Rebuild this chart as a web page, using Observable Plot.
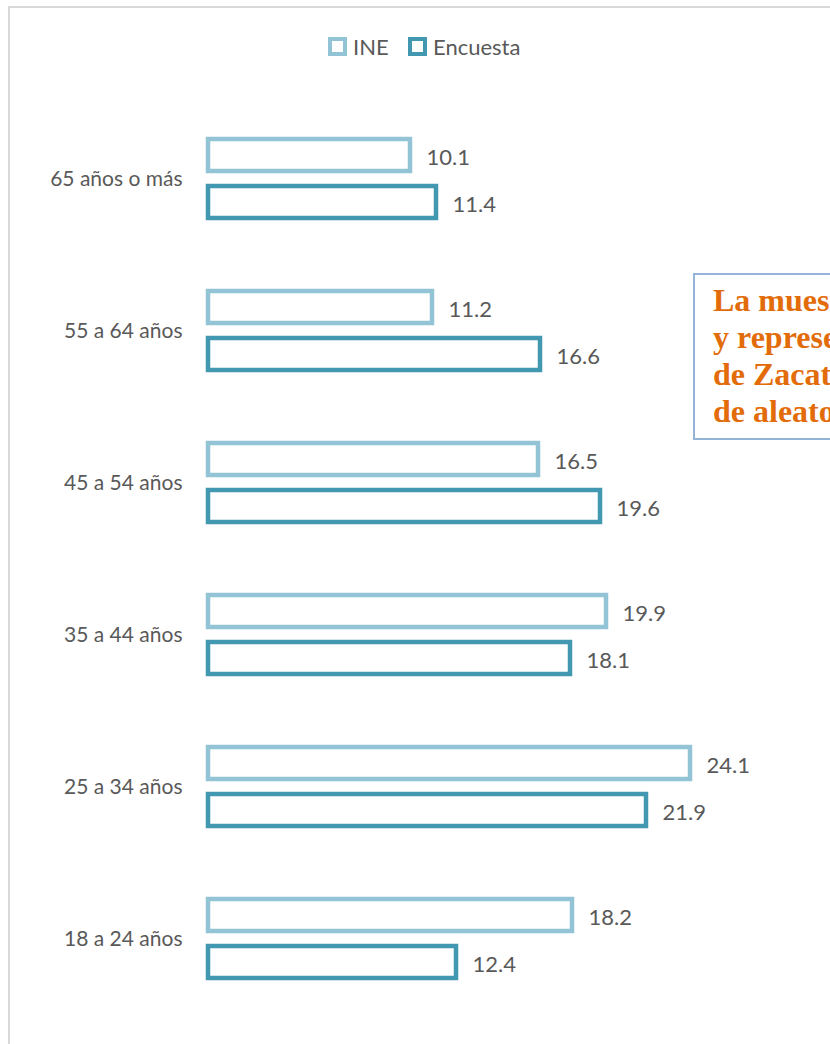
<!DOCTYPE html>
<html>
<head>
<meta charset="utf-8">
<script src="https://cdn.jsdelivr.net/npm/d3@7"></script>
<script src="https://cdn.jsdelivr.net/npm/@observablehq/plot@0.6"></script>
<style>
  html, body { margin: 0; padding: 0; background: #fff; overflow: hidden; }
  #wrap { position: relative; width: 830px; height: 1044px; overflow: hidden; font-family: Lato, "Open Sans", sans-serif; }
  #frame { position: absolute; left: 8px; top: 6px; width: 900px; height: 1100px; border-left: 2px solid #d9d9d9; border-top: 2px solid #d9d9d9; box-sizing: border-box; }
  #legend { position: relative; height: 100px; }
  .li { position: absolute; top: 33px; display: flex; align-items: center; font-size: 22px; color: #595959; }
  .sw { width: 11px; height: 11px; border: 4px solid; margin-right: 6px; background: #fff; }
  #note { position: absolute; left: 693px; top: 273px; width: 300px; height: 167px; border: 2px solid #95b3d7; box-sizing: border-box; background: #fff;
          font-family: "Liberation Serif", "Times New Roman", serif; font-weight: bold; color: #e36c0a; font-size: 32px; line-height: 37px; padding: 7px 0 0 18px; white-space: nowrap; }
  svg { display: block; }
</style>
</head>
<body>
<div id="wrap">
  <div id="frame"></div>
  <div id="legend"></div>
  <div id="chart"></div>
  <div id="note">La muestra es válida<br>y representativa<br>de Zacatecas<br>de aleatoriedad</div>
</div>
<script>
const ages = ["65 años o más", "55 a 64 años", "45 a 54 años", "35 a 44 años", "25 a 34 años", "18 a 24 años"];
const series = ["INE", "Encuesta"];
const ine = [10.1, 11.2, 16.5, 19.9, 24.1, 18.2];
const encuesta = [11.4, 16.6, 19.6, 18.1, 21.9, 12.4];
const colors = ["#93c4d5", "#4298b0"];

const data = [];
ages.forEach((a, i) => {
  data.push({age: a, series: "INE", value: ine[i]});
  data.push({age: a, series: "Encuesta", value: encuesta[i]});
});

// legend
const legend = document.getElementById("legend");
const legendX = [328, 408];
series.forEach((s, i) => {
  const el = document.createElement("div");
  el.className = "li";
  el.style.left = legendX[i] + "px";
  const sw = document.createElement("span");
  sw.className = "sw";
  sw.style.borderColor = colors[i];
  el.appendChild(sw);
  el.appendChild(document.createTextNode(s));
  legend.appendChild(el);
});

const chart = Plot.plot({
  width: 830,
  height: 944,
  marginLeft: 208,
  marginRight: 122,
  marginTop: 0,
  marginBottom: 27,
  style: {fontFamily: "Lato, 'Open Sans', sans-serif", fontSize: "21px", color: "#595959", background: "transparent"},
  x: {domain: [0, 25], axis: null},
  y: {domain: series, axis: null, paddingInner: 0.31, paddingOuter: 0.747},
  fy: {domain: ages, padding: 0, label: null},
  color: {domain: series, range: colors},
  marks: [
    Plot.axisFy({anchor: "left", tickSize: 0, tickPadding: 26, label: null, fontSize: 21, fill: "#595959"}),
    Plot.barX(data, {x: "value", y: "series", fy: "age", fill: "white", stroke: "series", strokeWidth: 4.5}),
    Plot.text(data, {x: "value", y: "series", fy: "age", text: d => d.value.toFixed(1), dx: 16, dy: 2, textAnchor: "start", fill: "#595959", fontSize: 22})
  ]
});
document.getElementById("chart").appendChild(chart);
</script>
</body>
</html>
